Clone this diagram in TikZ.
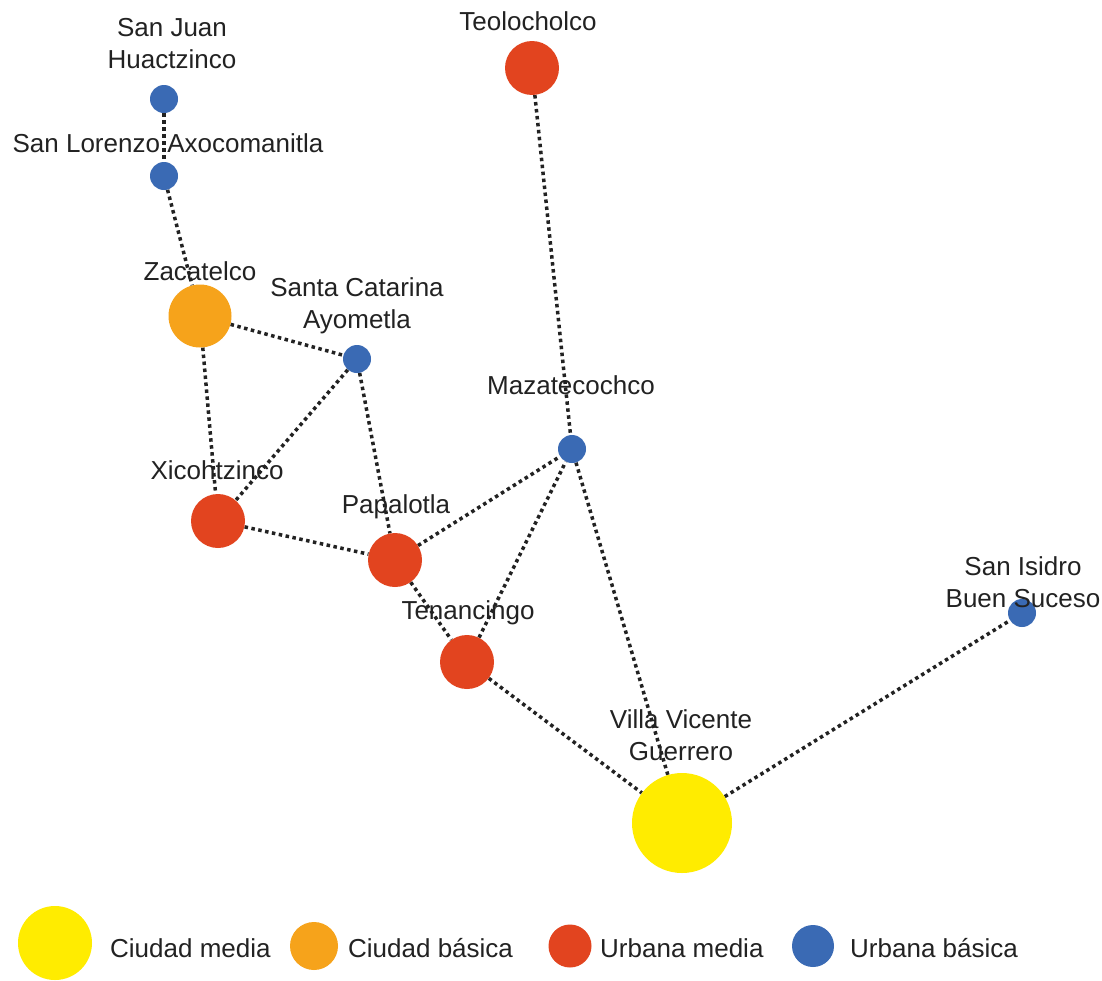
\documentclass[tikz,border=0pt]{standalone}
\usepackage{fontspec}
\setmainfont{Liberation Sans}
\usetikzlibrary{backgrounds}
\definecolor{cyel}{HTML}{FFEC00}
\definecolor{cora}{HTML}{F6A31B}
\definecolor{cred}{HTML}{E2441F}
\definecolor{cblu}{HTML}{3A6AB4}
\definecolor{ctxt}{HTML}{222222}
\tikzset{
  town/.style={circle, inner sep=0pt, draw=none},
  cmedia/.style={town, fill=cyel, minimum size=100pt},
  cbasica/.style={town, fill=cora, minimum size=63pt},
  umedia/.style={town, fill=cred, minimum size=54pt},
  ubasica/.style={town, fill=cblu, minimum size=28pt},
  lbl/.style={text=ctxt, font=\fontsize{26pt}{32pt}\selectfont, align=center, inner sep=0pt},
  leg/.style={text=ctxt, font=\fontsize{26pt}{30pt}\selectfont, anchor=base west, inner sep=0pt},
  link/.style={draw=ctxt, line width=3.5pt, dash pattern=on 3.5pt off 3.5pt}
}
\begin{document}
\begin{tikzpicture}[x=1pt, y=-1pt]
\useasboundingbox (0,0) rectangle (1102,980);
% towns
\node[ubasica] (sj) at (164,99) {};
\node[ubasica] (sl) at (164,176) {};
\node[cbasica] (za) at (200,316) {};
\node[ubasica] (sc) at (357,359) {};
\node[umedia] (te) at (532,68) {};
\node[ubasica] (ma) at (572,449) {};
\node[umedia] (xi) at (218,521) {};
\node[umedia] (pa) at (395,560) {};
\node[umedia] (tn) at (467,662) {};
\node[cmedia] (vv) at (682,823) {};
\node[ubasica] (si) at (1022,613) {};
% labels
\node[lbl] (lsj) at (172,44) {San Juan\\Huactzinco};
\node[lbl] (lsl) at (168,143) {San Lorenzo Axocomanitla};
\node[lbl] (lza) at (200,271) {Zacatelco};
\node[lbl] (lsc) at (357,306) {Santa Catarina\\Ayometla};
\node[lbl] (lte) at (528,21) {Teolocholco};
\node[lbl] (lma) at (571,385) {Mazatecochco};
\node[lbl] (lxi) at (217,470) {Xicohtzinco};
\node[lbl] (lpa) at (396,507) {Papalotla};
\node[lbl] (ltn) at (468,613) {Tenancingo};
\node[lbl] (lvv) at (681,735) {Villa Vicente\\Guerrero};
\node[lbl] (lsi) at (1023,582) {San Isidro\\Buen Suceso};
% links
\begin{scope}[on background layer]
\fill[white] (0,0) rectangle (1102,980);
\draw[link] (sj) -- (sl);
\draw[link] (sl) -- (za);
\draw[link] (za) -- (sc);
\draw[link] (za) -- (xi);
\draw[link] (sc) -- (xi);
\draw[link] (sc) -- (pa);
\draw[link] (xi) -- (pa);
\draw[link] (pa) -- (ma);
\draw[link] (pa) -- (tn);
\draw[link] (tn) -- (ma);
\draw[link] (ma) -- (vv);
\draw[link] (te) -- (ma);
\draw[link] (tn) -- (vv);
\draw[link] (vv) -- (si);
\end{scope}
% legend
\node[cmedia, minimum size=74pt] (k1) at (55,943) {};
\node[leg] (t1) at (110,957) {Ciudad media};
\node[cbasica, minimum size=48pt] (k2) at (314,946) {};
\node[leg] (t2) at (348,957) {Ciudad básica};
\node[umedia, minimum size=43pt] (k3) at (570,946) {};
\node[leg] (t3) at (600,957) {Urbana media};
\node[ubasica, minimum size=42pt] (k4) at (813,946) {};
\node[leg] (t4) at (850,957) {Urbana básica};
\end{tikzpicture}
\end{document}
